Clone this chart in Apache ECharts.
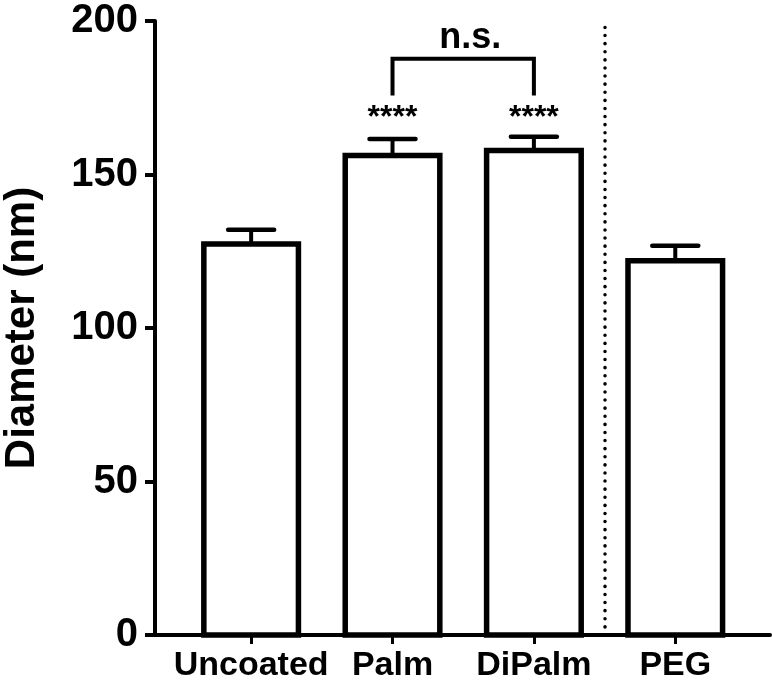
<!DOCTYPE html>
<html>
<head>
<meta charset="utf-8">
<script src="https://cdn.jsdelivr.net/npm/echarts@6/dist/echarts.min.js"></script>
<style>
html,body{margin:0;padding:0;background:#fff;}
#c{width:772px;height:693px;}
</style>
</head>
<body>
<div id="c"></div>
<script>
// ---- data ----
const categories = ['Uncoated', 'Palm', 'DiPalm', 'PEG'];
const positions = [1, 2, 3, 4];
const meanDiameter = [127.4, 156.2, 157.8, 121.9];
const errorTop = [132.0, 161.6, 162.3, 126.8];
const yTicks = [0, 50, 100, 150, 200];
const starLabels = [{x: 2, text: '****'}, {x: 3, text: '****'}];
const nsLabel = {from: 2, to: 3, text: 'n.s.'};
const dividerX = 3.5;

const FONT = '"Liberation Sans", Arial, Helvetica, sans-serif';
const chart = echarts.init(document.getElementById('c'), null, {renderer: 'canvas'});

const barData = positions.map((p, i) => [p, meanDiameter[i], errorTop[i]]);

function renderBar(params, api) {
  const x = api.value(0), v = api.value(1), e = api.value(2);
  const p0 = api.coord([x, 0]);
  const p1 = api.coord([x, v]);
  const pe = api.coord([x, e]);
  const w = api.size([0.669, 0])[0];
  return {
    type: 'group',
    children: [
      {type: 'line', shape: {x1: p1[0], y1: p1[1], x2: pe[0], y2: pe[1]},
       style: {stroke: '#000', lineWidth: 4}},
      {type: 'line', shape: {x1: pe[0] - 23, y1: pe[1], x2: pe[0] + 23, y2: pe[1]},
       style: {stroke: '#000', lineWidth: 4.5, lineCap: 'round'}},
      {type: 'rect', shape: {x: p1[0] - w / 2, y: p1[1], width: w, height: p0[1] - p1[1]},
       style: {fill: '#fff', stroke: '#000', lineWidth: 5.5}}
    ]
  };
}

function renderAnno(params, api) {
  const children = [];
  const bracketY = 187.7, legY = 175.7, starY = 168.2, nsY = 194.5;
  const a = api.coord([nsLabel.from, bracketY]);
  const b = api.coord([nsLabel.to, bracketY]);
  const al = api.coord([nsLabel.from, legY]);
  const bl = api.coord([nsLabel.to, legY]);
  children.push({type: 'polyline', shape: {points: [al, a, b, bl]},
    style: {stroke: '#000', lineWidth: 4, fill: null, lineJoin: 'miter'}});
  const ns = api.coord([(nsLabel.from + nsLabel.to) / 2 + 0.05, nsY]);
  children.push({type: 'text', x: ns[0], y: ns[1],
    style: {text: nsLabel.text, font: 'bold 36px ' + FONT, fill: '#000', align: 'center', verticalAlign: 'middle'}});
  starLabels.forEach(s => {
    const p = api.coord([s.x, starY]);
    children.push({type: 'text', x: p[0], y: p[1],
      style: {text: s.text, font: 'bold 32px ' + FONT, fill: '#000', align: 'center', verticalAlign: 'middle'}});
  });
  return {type: 'group', children};
}

chart.setOption({
  animation: false,
  backgroundColor: '#fff',
  grid: {left: 155, right: 2, top: 21, bottom: 58, containLabel: false, outerBoundsMode: 'none'},
  xAxis: {
    type: 'value', min: 0.32, max: 4.67,
    splitLine: {show: false},
    axisLine: {show: true, lineStyle: {color: '#000', width: 4}},
    axisTick: {show: true, customValues: positions, length: 9, lineStyle: {color: '#000', width: 3}},
    axisLabel: {show: true, customValues: positions, margin: 14,
      formatter: v => categories[positions.indexOf(Math.round(v))] || '',
      color: '#000', fontFamily: FONT, fontWeight: 'bold', fontSize: 34}
  },
  yAxis: {
    type: 'value', min: 0, max: 200, interval: 50,
    name: 'Diameter (nm)', nameLocation: 'middle', nameRotate: 90, nameGap: 112,
    nameMoveOverlap: false,
    nameTextStyle: {color: '#000', fontFamily: FONT, fontWeight: 'bold', fontSize: 42},
    splitLine: {show: false},
    axisLine: {show: true, lineStyle: {color: '#000', width: 4}},
    axisTick: {show: true, length: 10, lineStyle: {color: '#000', width: 4}},
    axisLabel: {margin: 17, color: '#000', fontFamily: FONT, fontWeight: 'bold', fontSize: 40,
      formatter: v => yTicks.includes(v) ? String(v) : ''}
  },
  series: [
    {
      type: 'custom', renderItem: renderBar, data: barData, clip: false, z: 3,
      encode: {x: 0, y: [1, 2]},
      markLine: {
        silent: true, symbol: 'none', label: {show: false},
        lineStyle: {color: '#000', width: 3.5, type: [0.1, 8], cap: 'round'},
        data: [{xAxis: dividerX}]
      }
    },
    {
      type: 'custom', renderItem: renderAnno, data: [[0]], clip: false, z: 4, silent: true
    }
  ]
});
</script>
</body>
</html>
